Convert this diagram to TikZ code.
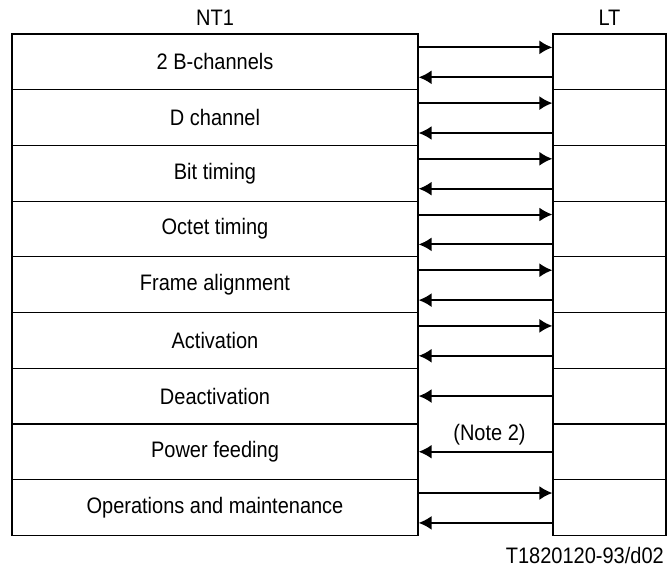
\documentclass[tikz,border=0pt]{standalone}
\usepackage{fontspec}
\setmainfont{Liberation Sans}
\usetikzlibrary{arrows.meta}
\usetikzlibrary{calc}
\newcommand{\tall}[1]{\scalebox{1}[1.12]{#1}}

\begin{document}
\begin{tikzpicture}[x=1pt, y=-1pt, font=\fontsize{20}{24}\selectfont]
	\def \rowh {55.7}
	\def \ytop {34}
	\tikzset{
		ntrow/.style={draw, line width=1.2pt, minimum width=406pt, minimum height=\rowh pt, inner sep=0pt},
		ltrow/.style={draw, line width=1.2pt, minimum width=113pt, minimum height=\rowh pt, inner sep=0pt},
		sig/.style={line width=2pt, -{Latex[length=13pt, width=14pt]}}
	}
	\useasboundingbox (0,0) rectangle (667,568);

	\foreach \s/\txt in {1/2 B-channels, 2/D channel, 3/Bit timing, 4/Octet timing, 5/Frame alignment, 6/Activation, 7/Deactivation, 8/Power feeding, 9/Operations and maintenance} {
		\node[ntrow] (n\s) at (215, {\ytop + \rowh*(\s - 0.5)}) {\tall{\txt}};
		\node[ltrow] (t\s) at (609.5, {\ytop + \rowh*(\s - 0.5)}) {};
	}

	\node (ntlbl) at (215, 18) {\tall{NT1}};
	\node (ltlbl) at (609.5, 18) {\tall{LT}};

	\foreach \s in {1,...,6,9} {
		\draw[sig] ([yshift=-14pt]n\s.north east) -- ([yshift=-14pt]t\s.north west);
		\draw[sig] ([yshift=13pt]t\s.south west) -- ([yshift=13pt]n\s.south east);
	}
	\draw[sig] (t7.west) -- (n7.east);
	\draw[sig] (t8.west) -- (n8.east);
	\node[anchor=south, inner sep=0pt] (note) at ($(t8.west)!0.5!(n8.east) + (4,-6)$) {\tall{(Note 2)}};

	\node[anchor=east, inner sep=0pt] (fig) at (664, 555) {\tall{T1820120-93/d02}};
\end{tikzpicture}
\end{document}
